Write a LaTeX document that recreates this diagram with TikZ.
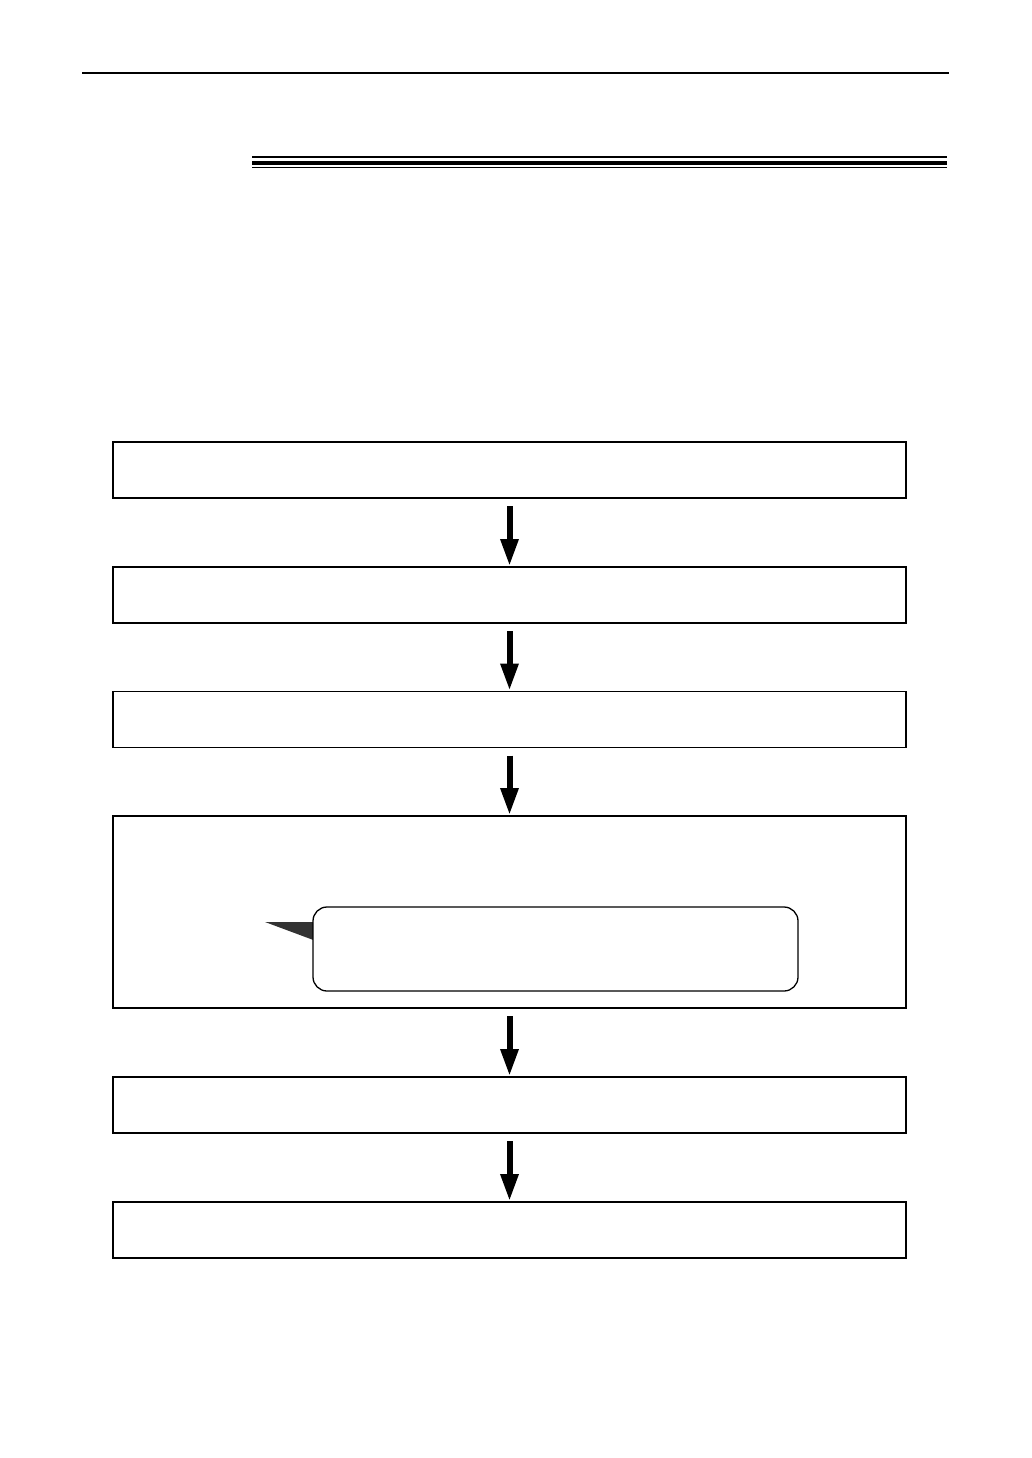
\documentclass[tikz,border=0pt]{standalone}
\usetikzlibrary{arrows.meta}
\begin{document}
\begin{tikzpicture}[x=1pt,y=-1pt,
  stepbox/.style={draw=black,line width=1.3pt,minimum width=793pt,minimum height=56pt,inner sep=0pt,outer sep=0pt},
  flowarrow/.style={line width=6pt,-{Triangle[width=17pt,length=27pt]},shorten <=8pt,shorten >=1pt},
  calloutbox/.style={draw=black,fill=white,line width=1.3pt,rounded corners=14pt,minimum width=485pt,minimum height=84pt,inner sep=0pt,outer sep=0pt},
  pointer/.style={fill=black!80}
]
\useasboundingbox (0,0) rectangle (1032,1458);
% header rules
\draw[line width=2pt] (82,73.5) -- (949,73.5);
\draw[line width=2pt] (252,157) -- (947,157);
\draw[line width=4pt] (252,163) -- (947,163);
\draw[line width=1pt] (252,167.2) -- (947,167.2);
% boxes
\node[stepbox] (b1) at (509.5,470) {};
\node[stepbox] (b2) at (509.5,595) {};
\node[stepbox] (b3) at (509.5,719.5) {};
\node[stepbox,minimum height=192pt] (b4) at (509.5,912) {};
\node[stepbox] (b5) at (509.5,1105) {};
\node[stepbox] (b6) at (509.5,1230) {};
% arrows
\draw[flowarrow] (b1.south) -- (b2.north);
\draw[flowarrow] (b2.south) -- (b3.north);
\draw[flowarrow] (b3.south) -- (b4.north);
\draw[flowarrow] (b4.south) -- (b5.north);
\draw[flowarrow] (b5.south) -- (b6.north);
% callout
\coordinate (tip) at (265,922);
\coordinate (pbot) at (316,941);
\fill[pointer] (tip) -- (316,922) -- (pbot) -- cycle;
\node[calloutbox] (c) at (555.5,949) {};
\end{tikzpicture}
\end{document}
